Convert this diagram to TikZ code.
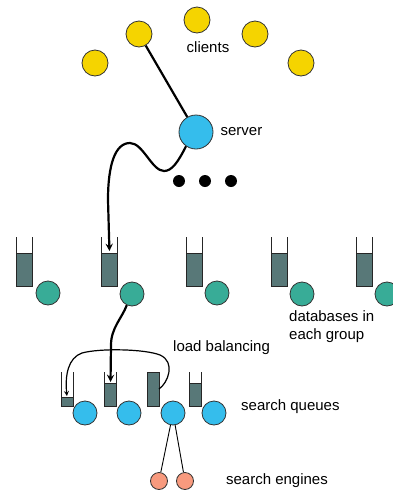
\documentclass[tikz,border=0pt]{standalone}
\usepackage{fontspec}
\setmainfont{Liberation Sans}
\usetikzlibrary{positioning, arrows}

\definecolor{clientyellow}{HTML}{F5D400}
\definecolor{serverblue}{HTML}{35BDEC}
\definecolor{dbgreen}{HTML}{38AC97}
\definecolor{enginesalmon}{HTML}{F89A7E}
\definecolor{queuefill}{HTML}{587878}

\begin{document}
\begin{tikzpicture}[x=1pt,y=-1pt,
        dot/.style={circle,draw=black!80,line width=0.8pt,inner sep=0pt},
        client/.style={dot,fill=clientyellow,minimum size=26pt},
        server/.style={dot,fill=serverblue,minimum size=34pt},
        db/.style={dot,fill=dbgreen,minimum size=24pt},
        searchq/.style={dot,fill=serverblue,minimum size=24pt},
        engine/.style={dot,fill=enginesalmon,minimum size=17pt},
        ellip/.style={circle,fill=black,minimum size=12pt,inner sep=0pt},
        lbl/.style={inner sep=0pt,font=\fontsize{15}{18}\selectfont},
        thickline/.style={line width=2.2pt},
        qwall/.style={line width=0.8pt,draw=black!85}]
    \useasboundingbox (0,0) rectangle (392,491);

    % clients and server
    \foreach \x/\y [count=\i] in {95/63,139/34,197/20,255/34,301/63}
        \node[client] (c\i) at (\x,\y) {};
    \node[lbl] (clientlbl) at (208,47) {clients};
    \node[server] (srv) at (196,132) {};
    \node[lbl,right=7pt of srv] (srvlbl) {server};
    \foreach \x [count=\i] in {179,205,231}
        \node[ellip] (d\i) at (\x,181) {};

    % database groups
    \foreach \x [count=\i] in {24,109.5,194.5,279,364} {
        \filldraw[qwall,fill=queuefill] (\x-8,253) rectangle (\x+8,286);
        \draw[qwall] (\x-8,237) -- (\x-8,286) -- (\x+8,286) -- (\x+8,237);
        \coordinate (qa\i) at (\x,253);
    }
    \foreach \x/\y [count=\i] in {48/293,132/294,217/293,302/294,387/294}
        \node[db] (g\i) at (\x,\y) {};
    \node[lbl,anchor=west,align=left] (dblbl) at (289,327) {databases in\\each group};

    % search queues
    \foreach \x/\t [count=\i] in {67/397,110.5/383,153/372,195.5/383} {
        \filldraw[qwall,fill=queuefill] (\x-6,\t) rectangle (\x+6,406);
        \draw[qwall] (\x-6,372) -- (\x-6,406) -- (\x+6,406) -- (\x+6,372);
        \coordinate (qb\i) at (\x,\t);
    }
    \coordinate (lbstart) at (159,389);
    \foreach \x [count=\i] in {85,129,173,214}
        \node[searchq] (b\i) at (\x,413) {};
    \node[lbl,anchor=west] (sqlbl) at (241,407) {search queues};
    \node[lbl,anchor=west] (lblbl) at (173,348) {load balancing};

    % search engines
    \node[engine] (e1) at (159,481) {};
    \node[engine] (e2) at (185,481) {};
    \node[lbl,right=32pt of e2] (selbl) {search engines};

    \draw[thickline] (c2) -- (srv);
    \draw[thickline,-stealth,shorten >=2pt] (srv.235) .. controls (178,162) and (172,171) .. (164,171)
        .. controls (152,171) and (143,143) .. (130,143)
        .. controls (115,143) and (108,165) .. (108,200) -- (qa2);
    \draw[thickline,-stealth,shorten >=1pt] (g2.245) .. controls (122,318) and (111,328) .. (111,345) -- (qb2);
    \draw[line width=1.2pt,-stealth,shorten >=1pt] (lbstart) .. controls (168,383) and (176,362) .. (160,355)
        .. controls (145,349) and (100,348) .. (82,353)
        .. controls (68,358) and (65,375) .. (qb1);
    \path[line width=0.9pt]
        (b3) edge (e1)
        (b3) edge (e2);
\end{tikzpicture}
\end{document}
